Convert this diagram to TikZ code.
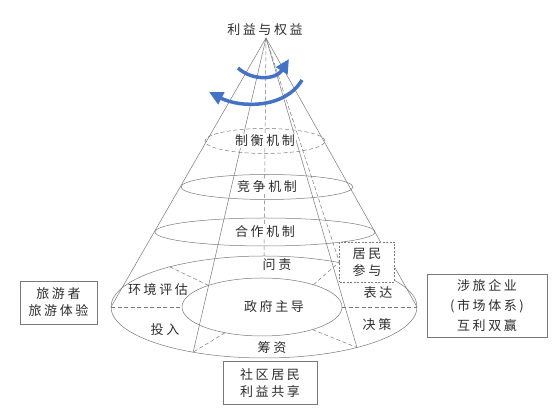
\documentclass[tikz,border=0pt]{standalone}
\usepackage{fontspec}
\setmainfont{Noto Sans CJK SC}[LetterSpace=20]
\usepackage{tikz}
\usetikzlibrary{arrows.meta}

\definecolor{flowblue}{RGB}{68,114,196}
\definecolor{conegray}{RGB}{120,120,120}
\definecolor{txtgray}{RGB}{45,45,45}

\tikzset{
  coneline/.style={conegray, line width=0.5pt},
  spoke/.style={conegray, line width=0.5pt, dash pattern=on 4pt off 2.5pt},
  lbl/.style={text=txtgray, inner sep=1pt, font=\fontsize{13}{17}\selectfont},
  mech/.style={lbl, fill=white},
  infobox/.style={draw=conegray, fill=white, text=txtgray, align=center, inner sep=0pt,
    font=\fontsize{13}{17}\selectfont},
  turn/.style={flowblue, line width=3.5pt, -{Triangle[length=14pt,width=13pt]}}
}

\begin{document}
\begin{tikzpicture}[x=1pt,y=1pt]
  \useasboundingbox (0,0) rectangle (557,414);

  \coordinate (apex) at (266,376);
  \coordinate (base) at (264,107);
  \coordinate (core) at (262,107);

  % base and core
  \draw[coneline] (base) ellipse [x radius=153, y radius=51];
  \draw[coneline] (core) ellipse [x radius=80, y radius=29];
  \coordinate (bw) at ([shift={(180:153 and 51)}]base);
  \coordinate (be) at ([shift={(0:153 and 51)}]base);
  \coordinate (bn) at ([shift={(90:153 and 51)}]base);
  \coordinate (cw) at ([shift={(180:80 and 29)}]core);
  \coordinate (ce) at ([shift={(0:80 and 29)}]core);

  % cone sides
  \draw[coneline] (apex) -- (bw);
  \draw[coneline] (apex) -- (be);
  \draw[coneline] (apex) -- ([shift={(-117.6:153 and 51)}]base);
  \draw[coneline] (apex) -- ([shift={(-52.6:153 and 51)}]base);

  % mechanism rings
  \draw[spoke] (265,273) ellipse [x radius=60, y radius=12.5];
  \draw[coneline] (267,227) ellipse [x radius=86, y radius=12.5];
  \draw[coneline] (265,182) ellipse [x radius=110, y radius=14];

  % dashed spokes
  \draw[spoke] (apex) -- (bn);
  \draw[spoke] (bw) -- (cw);
  \draw[spoke] (ce) -- (be);
  \draw[spoke] ([shift={(132:80 and 29)}]core) -- ([shift={(128:153 and 51)}]base);
  \draw[spoke] ([shift={(-117.5:80 and 29)}]core) -- ([shift={(-117.6:153 and 51)}]base);
  \draw[spoke] ([shift={(-51:80 and 29)}]core) -- ([shift={(-52.6:153 and 51)}]base);

  \node[infobox, dash pattern=on 2pt off 1.5pt, minimum width=55pt, minimum height=40pt]
    (resbox) at (367,152) {居民\\参与};
  \draw[spoke] (apex) -- (resbox.west);
  \draw[spoke] ([shift={(50:80 and 29)}]core) -- (resbox.west);

  % labels
  \node[lbl] (top) at (265,384) {利益与权益};
  \node[mech] (check) at (265,273) {制衡机制};
  \node[mech] (compete) at (267,227) {竞争机制};
  \node[mech] (coop) at (265,182) {合作机制};
  \node[lbl] (ask) at (277,149) {问责};
  \node[lbl] (env) at (158,124) {环境评估};
  \node[lbl] (gov) at (274,107) {政府主导};
  \node[lbl] (say) at (378,121) {表达};
  \node[lbl] (put) at (165,84) {投入};
  \node[lbl] (decide) at (377,89) {决策};
  \node[lbl] (fund) at (272,66) {筹资};

  % side boxes
  \node[infobox, minimum width=77pt, minimum height=43pt] (tourist) at (58.5,111.5) {旅游者\\旅游体验};
  \node[infobox, minimum width=120pt, minimum height=63pt, font=\fontsize{13}{20}\selectfont]
    (firm) at (487,108.5) {涉旅企业\\(市场体系)\\互利双赢};
  \node[infobox, minimum width=94pt, minimum height=43pt] (locals) at (270,31) {社区居民\\利益共享};

  % rotation arrows
  \draw[turn] (238,346) .. controls (252,333) and (276,334) .. (289,355);
  \draw[turn] (302,334) .. controls (285,305) and (240,306) .. (209,322);
\end{tikzpicture}
\end{document}
